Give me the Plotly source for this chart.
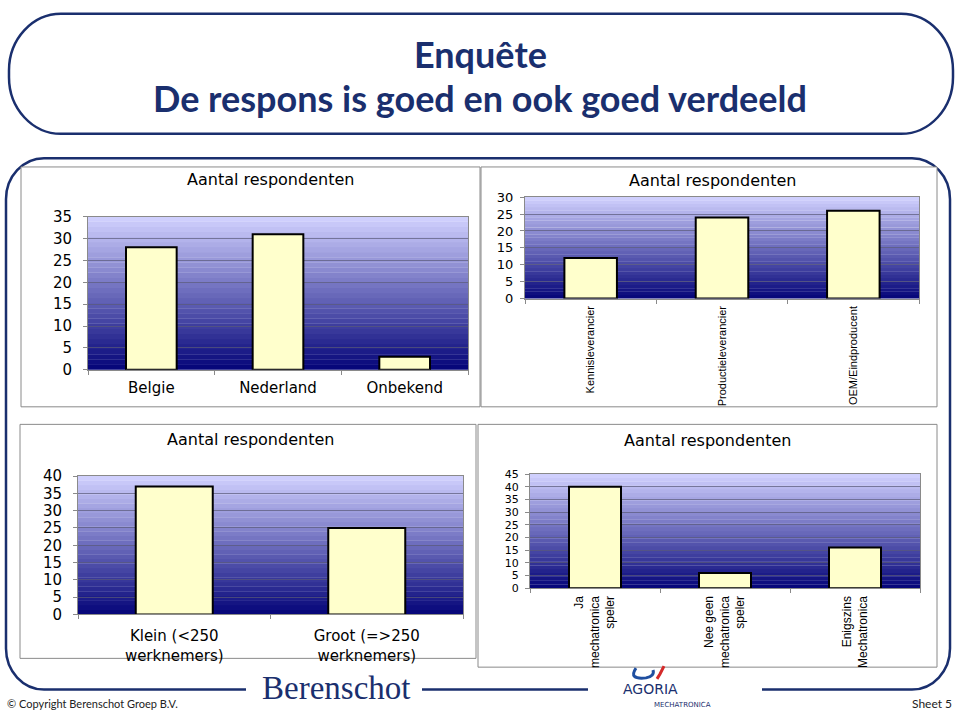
import plotly.graph_objects as go

W, H = 959, 721

# ---------------- data ----------------
chart_title = "Aantal respondenten"

land_cats = ["Belgie", "Nederland", "Onbekend"]
land_vals = [28, 31, 3]

rol_cats = ["Kennisleverancier", "Productieleverancier", "OEM/Eindproducent"]
rol_vals = [12, 24, 26]

grootte_cats = ["Klein (<250<br>werknemers)", "Groot (=>250<br>werknemers)"]
grootte_vals = [37, 25]

mech_cats = ["Ja<br>mechatronica<br>speler", "Nee geen<br>mechatronica<br>speler",
             "Enigszins<br>Mechatronica"]
mech_vals = [40, 6, 16]

y_ranges = [35, 30, 40, 45]

slide_title_1 = "Enquête"
slide_title_2 = "De respons is goed en ook goed verdeeld"
copyright_text = "© Copyright Berenschot Groep B.V."
sheet_text = "Sheet 5"

# ---------------- helpers ----------------
def px(x):
    return x / W


def py(y):
    return 1 - y / H


def P(x, y):
    return f"{px(x):.5f},{py(y):.5f}"


K = 0.5523


def rrect_path(x0, y0, x1, y1, rx, ry):
    s = f"M {P(x0 + rx, y0)} L {P(x1 - rx, y0)} "
    s += f"C {P(x1 - rx + K * rx, y0)} {P(x1, y0 + ry - K * ry)} {P(x1, y0 + ry)} "
    s += f"L {P(x1, y1 - ry)} "
    s += f"C {P(x1, y1 - ry + K * ry)} {P(x1 - rx + K * rx, y1)} {P(x1 - rx, y1)} "
    s += f"L {P(x0 + rx, y1)} "
    s += f"C {P(x0 + rx - K * rx, y1)} {P(x0, y1 - ry + K * ry)} {P(x0, y1 - ry)} "
    s += f"L {P(x0, y0 + ry)} "
    s += f"C {P(x0, y0 + ry - K * ry)} {P(x0 + rx - K * rx, y0)} {P(x0 + rx, y0)} Z"
    return s


def open_box_path(x0, y0, x1, y1, rx, ry, gap_left, gap_right):
    s = f"M {P(gap_left, y1)} L {P(x0 + rx, y1)} "
    s += f"C {P(x0 + rx - K * rx, y1)} {P(x0, y1 - ry + K * ry)} {P(x0, y1 - ry)} "
    s += f"L {P(x0, y0 + ry)} "
    s += f"C {P(x0, y0 + ry - K * ry)} {P(x0 + rx - K * rx, y0)} {P(x0 + rx, y0)} "
    s += f"L {P(x1 - rx, y0)} "
    s += f"C {P(x1 - rx + K * rx, y0)} {P(x1, y0 + ry - K * ry)} {P(x1, y0 + ry)} "
    s += f"L {P(x1, y1 - ry)} "
    s += f"C {P(x1, y1 - ry + K * ry)} {P(x1 - rx + K * rx, y1)} {P(x1 - rx, y1)} "
    s += f"L {P(gap_right, y1)}"
    return s


NAVY = "#1a2f6e"
GRAY = "#8a8a8a"
BAR_FILL = "#FFFFCC"
CHART_FONT = "DejaVu Sans, Liberation Sans, Arial"
NARROW_FONT = "Liberation Sans Narrow, Liberation Sans, Arial"

fig = go.Figure()

areas = [
    (88, 213, 468, 370),
    (525, 193, 919, 297),
    (78, 479, 463, 621),
    (530, 477, 920, 594),
]
panels = [
    (21, 162, 480, 408),
    (481, 162, 937, 408),
    (20, 426, 476, 666),
    (478, 426, 937, 675),
]
titles_pos = [(270, 175), (712, 176), (250, 442), (707, 443)]
x_font_sizes = [15, 11, 15, 12]
y_font_sizes = [15, 13, 15, 11]
x_standoff = [4, 2, 8, 2]
y_standoff = [8, 4, 8, 4]

cats_list = [land_cats, rol_cats, grootte_cats, mech_cats]
vals_list = [land_vals, rol_vals, grootte_vals, mech_vals]

shapes = []
annotations = []

# slide boxes
shapes.append(dict(type="path", xref="paper", yref="paper",
                   path=rrect_path(9, 5, 953, 128, 52, 58),
                   line=dict(color=NAVY, width=2.5), fillcolor="white", layer="below"))
shapes.append(dict(type="path", xref="paper", yref="paper",
                   path=open_box_path(6, 153, 950, 698, 38, 42, 246, 762),
                   line=dict(color=NAVY, width=2.5), layer="below"))
shapes.append(dict(type="line", xref="paper", yref="paper",
                   x0=px(422), y0=py(698), x1=px(588), y1=py(698),
                   line=dict(color=NAVY, width=2.5), layer="below"))

for (x0, y0, x1, y1) in panels:
    shapes.append(dict(type="rect", xref="paper", yref="paper",
                       x0=px(x0), y0=py(y1), x1=px(x1), y1=py(y0),
                       fillcolor="white", line=dict(color=GRAY, width=1), layer="below"))

top_rgb = (210, 210, 255)
bot_rgb = (4, 4, 120)
NSTRIPES = 30

layout_axes = {}
for i in range(4):
    n = "" if i == 0 else str(i + 1)
    xa, ya = "x" + n, "y" + n
    x0, y0, x1, y1 = areas[i]
    small = i in (1, 3)
    fig.add_trace(go.Bar(
        x=cats_list[i], y=vals_list[i], xaxis=xa, yaxis=ya,
        marker=dict(color=BAR_FILL, line=dict(color="black", width=2)),
        hoverinfo="x+y", showlegend=False,
    ))
    layout_axes["xaxis" + n] = dict(
        domain=[px(x0), px(x1)], anchor=ya,
        showline=True, linecolor=GRAY, linewidth=1, mirror=True,
        ticks="outside", tickson="boundaries", ticklen=4, tickcolor=GRAY,
        tickangle=-90 if small else 0,
        ticklabelstandoff=x_standoff[i],
        tickfont=dict(family=NARROW_FONT if small else CHART_FONT,
                      size=x_font_sizes[i], color="black"),
        showgrid=False, fixedrange=True,
    )
    layout_axes["yaxis" + n] = dict(
        domain=[py(y1), py(y0)], anchor=xa,
        range=[0, y_ranges[i]], dtick=5, tick0=0,
        showline=True, linecolor=GRAY, linewidth=1, mirror=True,
        ticks="outside", ticklen=4, tickcolor=GRAY,
        ticklabelstandoff=y_standoff[i],
        tickfont=dict(family=CHART_FONT, size=y_font_sizes[i], color="black"),
        showgrid=True, gridcolor="rgba(90,90,120,0.7)", gridwidth=1,
        zeroline=False, fixedrange=True,
    )
    for s in range(NSTRIPES):
        t = (s + 0.5) / NSTRIPES
        c = tuple(int(round(bot_rgb[k] + (top_rgb[k] - bot_rgb[k]) * t)) for k in range(3))
        shapes.append(dict(type="rect", xref=xa + " domain", yref=ya + " domain",
                           x0=0, x1=1, y0=s / NSTRIPES, y1=(s + 1) / NSTRIPES + 0.002,
                           fillcolor=f"rgb{c}", line=dict(width=0), layer="below"))
    tx, ty = titles_pos[i]
    annotations.append(dict(text=chart_title, xref="paper", yref="paper",
                            x=px(tx), y=py(ty), xanchor="center", yanchor="middle",
                            showarrow=False,
                            font=dict(family=CHART_FONT, size=16, color="black")))

# slide title
annotations.append(dict(text=slide_title_1, xref="paper", yref="paper",
                        x=px(480), y=py(46), xanchor="center", yanchor="middle",
                        showarrow=False,
                        font=dict(family="Lato", size=36, color=NAVY, weight="bold")))
annotations.append(dict(text=slide_title_2, xref="paper", yref="paper",
                        x=px(480), y=py(91), xanchor="center", yanchor="middle",
                        showarrow=False,
                        font=dict(family="Lato", size=36, color=NAVY, weight="bold")))

# footer
annotations.append(dict(text=copyright_text, xref="paper", yref="paper",
                        x=px(5), y=py(712), xanchor="left", yanchor="middle",
                        showarrow=False, font=dict(family="Lato", size=11, color="#222222")))
annotations.append(dict(text=sheet_text, xref="paper", yref="paper",
                        x=px(954), y=py(712), xanchor="right", yanchor="middle",
                        showarrow=False, font=dict(family="Lato", size=12, color="#222222")))
annotations.append(dict(text="Berenschot", xref="paper", yref="paper",
                        x=px(336), y=py(696), xanchor="center", yanchor="middle",
                        showarrow=False,
                        font=dict(family="Liberation Serif", size=33, color=NAVY)))
annotations.append(dict(text="AGORIA", xref="paper", yref="paper",
                        x=px(650), y=py(697), xanchor="center", yanchor="middle",
                        showarrow=False,
                        font=dict(family="DejaVu Sans", size=14, color=NAVY)))
annotations.append(dict(text="MECHATRONICA", xref="paper", yref="paper",
                        x=px(682), y=py(714), xanchor="center", yanchor="middle",
                        showarrow=False,
                        font=dict(family="DejaVu Sans", size=7, color=NAVY)))
shapes.append(dict(type="path", xref="paper", yref="paper",
                   path=f"M {P(636, 676)} Q {P(628, 688)} {P(646, 686)} Q {P(655, 684)} {P(653, 678)}",
                   line=dict(color="#1f4fa0", width=3), layer="above"))
shapes.append(dict(type="path", xref="paper", yref="paper",
                   path=f"M {P(664, 674)} L {P(660, 682)} L {P(657, 687)}",
                   line=dict(color="#d42a2a", width=3), layer="above"))

fig.update_layout(
    width=W, height=H,
    margin=dict(l=0, r=0, t=0, b=0),
    paper_bgcolor="white", plot_bgcolor="rgba(0,0,0,0)",
    bargap=0.6, showlegend=False,
    shapes=shapes, annotations=annotations,
    **layout_axes,
)

fig.write_html("out.html")
